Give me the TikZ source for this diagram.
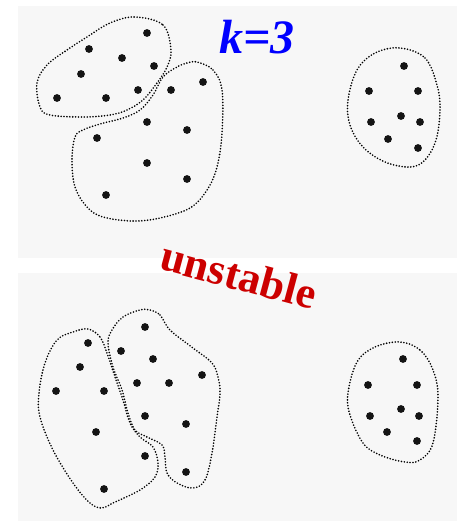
\documentclass[tikz,border=0pt]{standalone}
\usepackage{fontspec}
\setmainfont{Liberation Serif}
\definecolor{panelgray}{HTML}{F7F7F7}
\definecolor{darkred}{HTML}{CC0000}

\begin{document}
\begin{tikzpicture}[x=1pt,y=-1pt,
panel/.style={fill=panelgray,draw=none},
pt/.style={fill=black!92,draw=none},
blob/.style={dash pattern=on 0pt off 2.9pt,line width=1.8pt,line cap=round},
lbl/.style={font=\fontsize{48}{48}\selectfont\bfseries\itshape,text=blue,inner sep=0pt},
tag/.style={font=\fontsize{44}{44}\selectfont\bfseries,text=darkred,inner sep=0pt,rotate=-15}]
\useasboundingbox (0,0) rectangle (459,522);
\fill[panel] (18,6) rectangle (457,258);
\fill[panel] (18,273) rectangle (457,521);
% top panel: k=3
\draw[blob] plot[smooth cycle,tension=0.6] coordinates {(135,17) (163,25) (171,50) (167,67) (157,83) (143,100) (127,110) (110,115) (83,117) (50,115) (40,107) (37,83) (47,65) (67,50) (87,37) (110,23)};
\draw[blob] plot[smooth cycle,tension=0.6] coordinates {(197,62) (213,70) (222,90) (222,133) (217,167) (207,190) (190,208) (160,218) (133,221) (103,217) (87,207) (75,187) (72,160) (75,137) (83,130) (100,124) (123,118) (140,110) (153,95) (163,77) (177,67) (187,63)};
\draw[blob] plot[smooth cycle,tension=0.6] coordinates {(400,48) (425,58) (437,85) (440,110) (436,140) (425,160) (410,167) (385,162) (363,147) (350,125) (348,100) (357,70) (375,53)};
\foreach \x/\y in {147/33,89/49,122/58,154/66,81/74,138/90,57/98,106/98,
171/90,203/82,147/122,187/130,97/138,147/163,187/179,106/195,
404/66,369/91,418/91,401/116,371/122,420/122,388/139,418/148}
  \fill[pt] (\x,\y) circle (3.9);
\node[lbl] (k) at (257,37) {k=3};
% bottom panel: other run
\draw[blob] plot[smooth cycle,tension=0.6] coordinates {(88,329) (100,337) (107,353) (115,377) (123,400) (130,423) (140,437) (153,447) (158,463) (155,477) (140,490) (113,503) (102,508) (90,503) (73,483) (53,450) (40,417) (39,393) (45,363) (57,340) (73,332)};
\draw[blob] plot[smooth cycle,tension=0.6] coordinates {(150,310) (160,315) (170,330) (193,348) (212,363) (218,377) (220,393) (217,417) (212,453) (205,480) (193,488) (177,483) (167,473) (165,457) (162,445) (147,437) (135,430) (128,413) (122,390) (113,367) (108,343) (112,330) (123,317) (140,310)};
\draw[blob] plot[smooth cycle,tension=0.6] coordinates {(400,342) (420,350) (433,370) (438,397) (433,443) (420,460) (405,462) (380,455) (363,443) (350,415) (348,393) (357,362) (375,347)};
\foreach \x/\y in {145/327,88/343,121/351,153/359,80/367,56/391,104/391,137/383,
169/383,202/375,145/416,186/424,96/432,145/456,186/472,104/489,
403/359,368/385,417/385,401/409,370/416,419/416,387/432,417/441}
  \fill[pt] (\x,\y) circle (3.9);
\node[tag] (unst) at (239,275) {unstable};
\end{tikzpicture}
\end{document}
